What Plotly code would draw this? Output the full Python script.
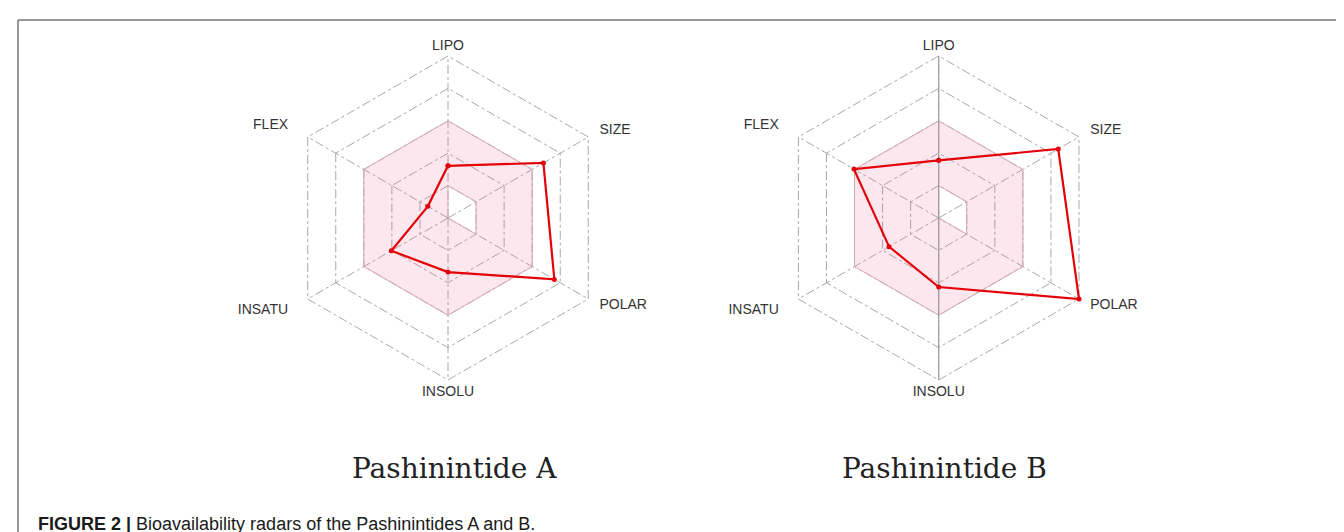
import plotly.graph_objects as go

# ---- data ----
categories = ["LIPO", "SIZE", "POLAR", "INSOLU", "INSATU", "FLEX"]
pashinintide_a = [1.61, 3.40, 3.79, 1.67, 2.02, 0.72]
pashinintide_b = [1.78, 4.26, 5.00, 2.13, 1.77, 3.02]
optimal_min = [1, 1, 1, 0, 0, 0]
optimal_max = [3, 3, 3, 3, 3, 3]
grid_levels = [1, 2, 3, 4, 5]
titles = ["Pashinintide A", "Pashinintide B"]
caption_bold = "FIGURE 2 |"
caption_text = " Bioavailability radars of the Pashinintides A and B."

# ---- style ----
W, H = 1344, 532
RED = "rgb(228,0,8)"
GRID = "rgb(168,168,168)"
label_radius = [5.3, 5.4, 5.4, 5.4, 5.7, 5.7]
label_anchor = ["middle center", "middle right", "middle right",
                "middle center", "middle left", "middle left"]
R_MAX = 6.0          # radial range (labels live between 5 and 6)
UNIT_PX = 32.4       # pixels per radial unit


def closed(v):
    return list(v) + [v[0]]


def keyhole(cats, rmin, rmax):
    # outer ring, then inner ring reversed (leaves a hole where rmin > 0)
    th = closed(cats) + [cats[0]] + list(reversed(cats[1:])) + [cats[0]]
    r = closed(rmax) + [rmin[0]] + list(reversed(rmin[1:])) + [rmin[0]]
    return th, r


fig = go.Figure()
series = [pashinintide_a, pashinintide_b]
for i, vals in enumerate(series):
    pid = "polar" if i == 0 else "polar2"
    # spokes from the centre to the outer grid ring
    sp_t, sp_r = [], []
    for c in categories:
        sp_t += [c, c, None]
        sp_r += [0, grid_levels[-1], None]
    fig.add_trace(go.Scatterpolar(
        theta=sp_t, r=sp_r, subplot=pid, mode="lines", connectgaps=False,
        line=dict(color=GRID, width=1, dash="dashdot"),
        hoverinfo="skip", showlegend=False))
    th, r = keyhole(categories, optimal_min, optimal_max)
    fig.add_trace(go.Scatterpolar(
        theta=th, r=r, subplot=pid, mode="lines", fill="toself",
        fillcolor="rgba(232,105,145,0.16)", line=dict(width=0),
        hoverinfo="skip", showlegend=False))
    fig.add_trace(go.Scatterpolar(
        theta=closed(categories), r=closed(optimal_max), subplot=pid,
        mode="lines", line=dict(color="rgb(215,170,182)", width=1),
        hoverinfo="skip", showlegend=False))
    fig.add_trace(go.Scatterpolar(
        theta=closed(categories), r=closed(optimal_min), subplot=pid,
        mode="lines", line=dict(color="rgb(215,170,182)", width=1),
        hoverinfo="skip", showlegend=False))
    if i == 1:
        # solid vertical axis line (LIPO - INSOLU) in the second radar
        fig.add_trace(go.Scatterpolar(
            theta=[categories[0], categories[0], categories[3]],
            r=[grid_levels[-1], 0, grid_levels[-1]], subplot=pid,
            mode="lines", line=dict(color="rgb(160,160,160)", width=1.3),
            hoverinfo="skip", showlegend=False))
    fig.add_trace(go.Scatterpolar(
        theta=closed(categories), r=closed(vals), subplot=pid,
        mode="lines+markers", line=dict(color=RED, width=2.2),
        marker=dict(color=RED, size=5), cliponaxis=False,
        name=titles[i], showlegend=False))
    # axis labels
    fig.add_trace(go.Scatterpolar(
        theta=categories, r=label_radius, subplot=pid, mode="text",
        text=categories, textposition=label_anchor, cliponaxis=False,
        textfont=dict(family="Liberation Sans, Arial, sans-serif",
                      size=14, color="#333333"),
        hoverinfo="skip", showlegend=False))

size = 2 * UNIT_PX * R_MAX
centers = [(440, 210), (930.7, 210)]
polar_common = dict(
    bgcolor="rgba(0,0,0,0)",
    gridshape="linear",
    radialaxis=dict(range=[0, R_MAX], tickvals=grid_levels,
                    showticklabels=False, ticks="", showline=False,
                    gridcolor=GRID, griddash="dashdot", gridwidth=1),
    angularaxis=dict(categoryorder="array", categoryarray=categories,
                     rotation=90, direction="clockwise", showline=False,
                     ticks="", showticklabels=False, showgrid=False),
)
doms = []
for cx, cy in centers:
    doms.append(dict(x=[(cx - size / 2) / W, (cx + size / 2) / W],
                     y=[1 - (cy + size / 2) / H, 1 - (cy - size / 2) / H]))

fig.update_layout(
    width=W, height=H,
    margin=dict(l=0, r=0, t=0, b=0),
    paper_bgcolor="white",
    plot_bgcolor="white",
    showlegend=False,
    polar=dict(domain=doms[0], **polar_common),
    polar2=dict(domain=doms[1], **polar_common),
)

annos = []
for (cx, cy), t in zip(centers, titles):
    annos.append(dict(x=(cx + 6) / W, y=1 - 460 / H, xref="paper", yref="paper",
                      text=t, showarrow=False, xanchor="center", yanchor="middle",
                      font=dict(family="DejaVu Serif, serif",
                                size=28, color="#222222")))
annos.append(dict(x=28 / W, y=1 - 516 / H, xref="paper", yref="paper",
                  text="<b>" + caption_bold + "</b>" + caption_text,
                  showarrow=False, xanchor="left", yanchor="middle",
                  font=dict(family="Liberation Sans, Arial, sans-serif",
                            size=18, color="#1a1a1a")))
fig.update_layout(annotations=annos)

fig.update_layout(shapes=[
    dict(type="line", xref="paper", yref="paper", x0=10 / W, x1=1,
         y0=1 - 12 / H, y1=1 - 12 / H, line=dict(color="#777777", width=1.5)),
    dict(type="line", xref="paper", yref="paper", x0=10 / W, x1=10 / W,
         y0=0, y1=1 - 12 / H, line=dict(color="#777777", width=1.5)),
])

fig.write_html("out.html")
